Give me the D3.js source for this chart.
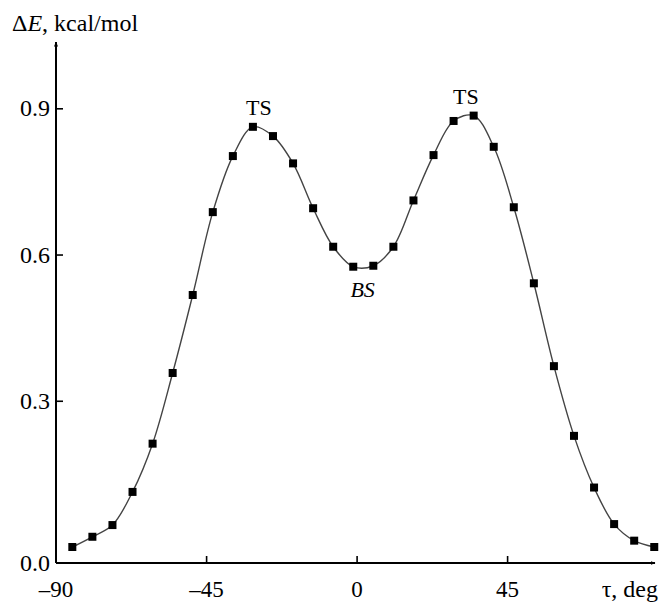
<!DOCTYPE html>
<html>
<head>
<meta charset="utf-8">
<script src="https://cdn.jsdelivr.net/npm/d3@7"></script>
<style>
  body { margin: 0; background: #fff; }
  svg text { font-family: "Liberation Serif", "DejaVu Serif", serif; fill: #000; }
</style>
</head>
<body>
<div id="chart"></div>
<script>
const width = 660;
const height = 603;

// torsion angle tau, deg (6 deg step)
const tau = [-85, -79, -73, -67, -61, -55, -49, -43, -37, -31, -25, -19, -13, -7, -1,
  5, 11, 17, 23, 29, 35, 41, 47, 53, 59, 65, 71, 77, 83, 89];
// relative energy, kcal/mol
const dE = [0.00, 0.021, 0.045, 0.113, 0.212, 0.357, 0.517, 0.687, 0.802, 0.862,
  0.843, 0.787, 0.695, 0.616, 0.575, 0.577, 0.616, 0.711, 0.804, 0.874,
  0.885, 0.821, 0.697, 0.541, 0.371, 0.228, 0.122, 0.047, 0.013, 0.00];

const xTicks = [-90, -45, 0, 45];
const yTicks = [0.3, 0.6, 0.9];

const points = tau.map((t, i) => ({ t: t, e: dE[i] }));

const x = d3.scaleLinear().domain([-90, 45]).range([55.6, 507.1]);
const y = d3.scaleLinear().domain([0, 0.9]).range([547, 108.3]);

const axisY = 563;   // x axis sits a little below zero
const axisX = 56;

const svg = d3.select("#chart").append("svg")
  .attr("width", width)
  .attr("height", height);

const defs = svg.append("defs");
defs.append("marker")
  .attr("id", "arrow")
  .attr("viewBox", "0 0 10 10")
  .attr("refX", 9).attr("refY", 5)
  .attr("markerWidth", 5).attr("markerHeight", 5)
  .attr("markerUnits", "userSpaceOnUse")
  .attr("orient", "auto")
  .append("path")
    .attr("d", "M0,1 L10,5 L0,9 Z")
    .attr("fill", "#000");

// axis lines with arrows
svg.append("line")
  .attr("x1", axisX).attr("y1", axisY)
  .attr("x2", 655).attr("y2", axisY)
  .attr("stroke", "#000").attr("stroke-width", 2)
  .attr("marker-end", "url(#arrow)");

svg.append("line")
  .attr("x1", axisX).attr("y1", axisY)
  .attr("x2", axisX).attr("y2", 42)
  .attr("stroke", "#000").attr("stroke-width", 2)
  .attr("marker-end", "url(#arrow)");

// x ticks
const gx = svg.append("g")
  .attr("transform", `translate(0,${axisY})`)
  .call(d3.axisBottom(x)
    .tickValues(xTicks)
    .tickSize(-7)
    .tickFormat(d => d < 0 ? "\u2013" + Math.abs(d) : d));
gx.select(".domain").remove();
gx.selectAll(".tick line").attr("stroke", "#000").attr("stroke-width", 1.6)
  .attr("opacity", d => d === -90 ? 0 : 1);
gx.selectAll(".tick text")
  .attr("y", 34).attr("dy", null)
  .style("font-size", "23px");

// y ticks
const gy = svg.append("g")
  .attr("transform", `translate(${axisX},0)`)
  .call(d3.axisLeft(y)
    .tickValues(yTicks)
    .tickSize(-7)
    .tickPadding(6)
    .tickFormat(d3.format(".1f")));
gy.select(".domain").remove();
gy.selectAll(".tick line").attr("stroke", "#000").attr("stroke-width", 1.6);
gy.selectAll(".tick text").style("font-size", "24px");

// origin label at the corner
svg.append("text")
  .attr("x", 50).attr("y", axisY)
  .attr("dy", "0.32em")
  .attr("text-anchor", "end")
  .style("font-size", "24px")
  .text("0.0");

// axis titles
const yt = svg.append("text")
  .attr("x", 12).attr("y", 31)
  .style("font-size", "24px");
yt.append("tspan").text("\u0394");
yt.append("tspan").style("font-style", "italic").text("E");
yt.append("tspan").text(", kcal/mol");

svg.append("text")
  .attr("x", 658).attr("y", 597)
  .attr("text-anchor", "end")
  .style("font-size", "24px")
  .text("\u03c4, deg");

// curve
const line = d3.line()
  .x(d => x(d.t))
  .y(d => y(d.e))
  .curve(d3.curveCatmullRom);

svg.append("path")
  .datum(points)
  .attr("d", line)
  .attr("fill", "none")
  .attr("stroke", "#444")
  .attr("stroke-width", 1.4);

svg.selectAll(".pt")
  .data(points)
  .enter().append("rect")
    .attr("class", "pt")
    .attr("x", d => x(d.t) - 4)
    .attr("y", d => y(d.e) - 4)
    .attr("width", 8)
    .attr("height", 8)
    .attr("fill", "#000");

// state labels
svg.append("text")
  .attr("x", x(-29.2)).attr("y", y(0.886))
  .attr("text-anchor", "middle")
  .style("font-size", "22px")
  .text("TS");

svg.append("text")
  .attr("x", x(32.7)).attr("y", y(0.909))
  .attr("text-anchor", "middle")
  .style("font-size", "22px")
  .text("TS");

svg.append("text")
  .attr("x", x(1.8)).attr("y", y(0.513))
  .attr("text-anchor", "middle")
  .style("font-size", "22px")
  .style("font-style", "italic")
  .text("BS");
</script>
</body>
</html>
